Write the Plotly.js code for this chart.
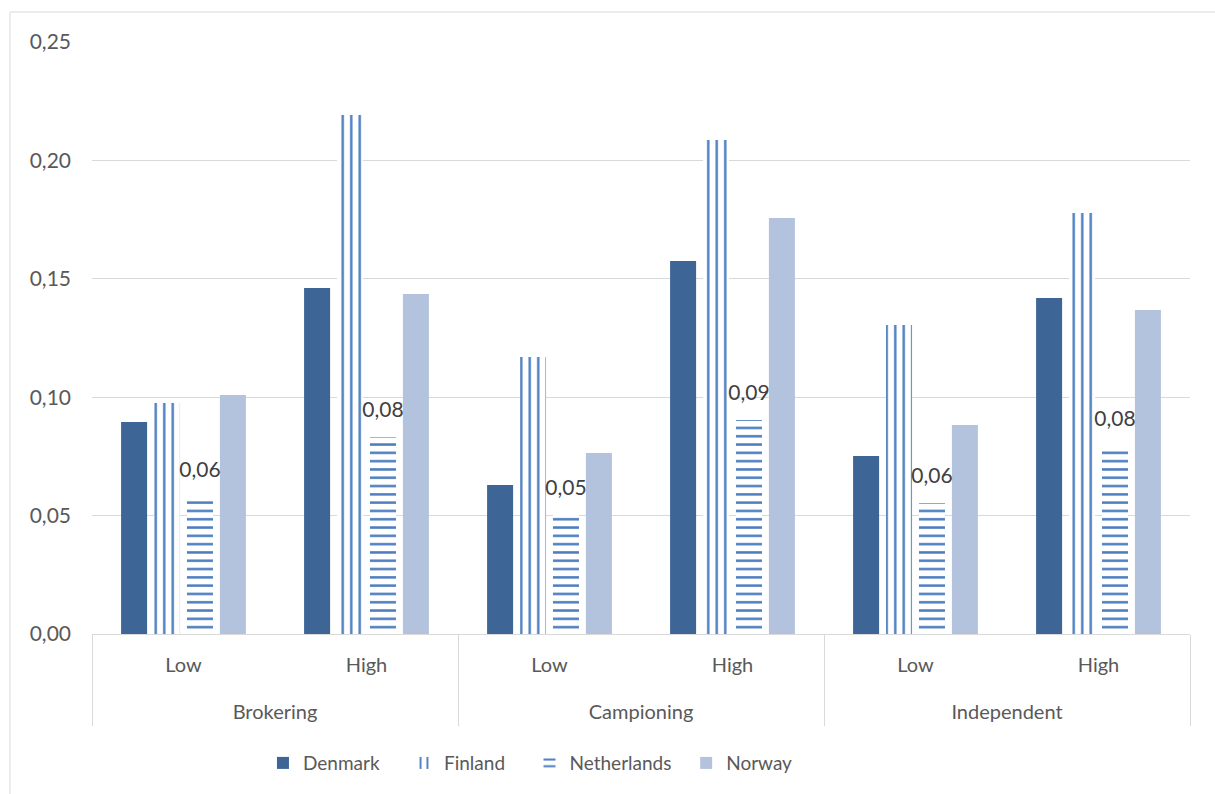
<!DOCTYPE html>
<html>
<head>
<meta charset="utf-8">
<script src="https://cdn.plot.ly/plotly-3.0.1.min.js"></script>
<style>
  html, body { margin: 0; padding: 0; background: #ffffff; }
  #chart { width: 1215px; height: 794px; }
</style>
</head>
<body>
<div id="chart"></div>
<script>
// Role types and levels on the two-row category axis
const roles  = ['Brokering', 'Brokering', 'Campioning', 'Campioning', 'Independent', 'Independent'];
const levels = ['Low', 'High', 'Low', 'High', 'Low', 'High'];

// Values per country
const denmark     = [0.0895, 0.1461, 0.0629, 0.1575, 0.0752, 0.1419];
const finland     = [0.0976, 0.2192, 0.1170, 0.2086, 0.1305, 0.1778];
const netherlands = [0.0579, 0.0832, 0.0503, 0.0904, 0.0552, 0.0794];
const norway      = [0.1009, 0.1436, 0.0764, 0.1757, 0.0883, 0.1368];

const yTicks = [0, 0.05, 0.10, 0.15, 0.20, 0.25];

const FONT = 'Lato, "Open Sans", sans-serif';
const TEXT_GREY = '#595959';
const LINE_BLUE = '#4a7dc0';
const DIVIDER = '#d9d9d9';
// vertical clearance (in y units) kept between a Netherlands bar and its value label
const LABEL_CLEARANCE = 0.0055;
// extra room after legend entries
const pad = n => '\u00a0'.repeat(n);

// one category per (role, level) pair; the lower axis row shows the role names
const keys = roles.map((r, i) => r + ' · ' + levels[i]);
const groups = [...new Set(roles)];

const traces = [
  {
    type: 'bar', name: 'Denmark' + pad(4), x: keys, y: denmark, offsetgroup: 'dk',
    marker: { color: '#3d6596', line: { width: 0 } },
    hoverinfo: 'skip'
  },
  {
    type: 'bar', name: 'Finland' + pad(4), x: keys, y: finland, offsetgroup: 'fi',
    marker: {
      color: '#ffffff', line: { width: 0 },
      pattern: { shape: '|', fgcolor: LINE_BLUE, bgcolor: '#ffffff', size: 8.5, solidity: 0.28, fillmode: 'replace' }
    },
    hoverinfo: 'skip'
  },
  {
    type: 'bar', name: 'Netherlands' + pad(2), x: keys, y: netherlands, offsetgroup: 'nl',
    marker: {
      color: '#ffffff', line: { width: 0 },
      pattern: { shape: '-', fgcolor: LINE_BLUE, bgcolor: '#ffffff', size: 8.3, solidity: 0.3, fillmode: 'replace' }
    },
    hoverinfo: 'skip'
  },
  {
    type: 'bar', name: 'Norway', x: keys, y: norway, offsetgroup: 'no',
    marker: { color: '#b4c3dd', line: { width: 0 } },
    hoverinfo: 'skip'
  },
  // transparent carrier sitting on top of each Netherlands bar; it only holds the value label
  {
    type: 'bar', name: 'Netherlands values', x: keys, offsetgroup: 'nl',
    base: netherlands,
    y: netherlands.map(() => LABEL_CLEARANCE),
    customdata: netherlands,
    marker: { color: 'rgba(0,0,0,0)', line: { width: 0 } },
    texttemplate: '%{customdata:.2f}',
    textposition: 'outside',
    constraintext: 'none',
    cliponaxis: false,
    textfont: { family: FONT, size: 21, color: '#404040' },
    showlegend: false,
    hoverinfo: 'skip'
  },
  // empty trace that registers the role names on the outer category axis
  {
    type: 'scatter', mode: 'markers', xaxis: 'x2', yaxis: 'y',
    x: groups, y: groups.map(() => null),
    showlegend: false, hoverinfo: 'skip'
  }
];

const layout = {
  width: 1215,
  height: 794,
  margin: { l: 92, r: 25, t: 42, b: 160 },
  paper_bgcolor: '#ffffff',
  plot_bgcolor: '#ffffff',
  separators: ', ',
  font: { family: FONT, size: 20, color: TEXT_GREY },
  barmode: 'group',
  bargap: 0.28,
  bargroupgap: 0.21,
  showlegend: true,
  legend: {
    orientation: 'h',
    x: 0.1557, xanchor: 'left',
    y: -0.218, yanchor: 'middle',
    font: { family: FONT, size: 19, color: TEXT_GREY },
    traceorder: 'normal'
  },
  xaxis: {
    type: 'category',
    tickmode: 'array',
    tickvals: keys,
    ticktext: levels,
    showline: true,
    linecolor: DIVIDER,
    linewidth: 1,
    showgrid: false,
    ticks: '',
    ticklabelstandoff: 13,
    tickfont: { family: FONT, size: 20, color: TEXT_GREY },
    zeroline: false
  },
  xaxis2: {
    type: 'category',
    overlaying: 'x',
    anchor: 'y',
    side: 'bottom',
    categoryorder: 'array',
    categoryarray: groups,
    range: [-0.5, groups.length - 0.5],
    tickson: 'boundaries',
    ticks: 'outside',
    ticklen: 91,
    tickwidth: 1,
    tickcolor: DIVIDER,
    showline: false,
    showgrid: false,
    zeroline: false,
    ticklabelstandoff: 64,
    tickfont: { family: FONT, size: 20, color: TEXT_GREY }
  },
  yaxis: {
    range: [0, 0.25],
    tickvals: yTicks,
    tickformat: '.2f',
    showgrid: true,
    gridcolor: DIVIDER,
    gridwidth: 1,
    zeroline: false,
    showline: false,
    ticks: '',
    ticklabelstandoff: 20,
    tickfont: { family: FONT, size: 21, color: TEXT_GREY }
  },
  shapes: [
    {
      type: 'rect', xref: 'paper', yref: 'paper',
      x0: -0.0747, x1: 1.0237, y0: 1.0507, y1: -0.272,
      line: { color: DIVIDER, width: 1 }, fillcolor: 'rgba(0,0,0,0)', layer: 'below'
    }
  ]
};

Plotly.newPlot('chart', traces, layout, { displayModeBar: false, staticPlot: true });
</script>
</body>
</html>
